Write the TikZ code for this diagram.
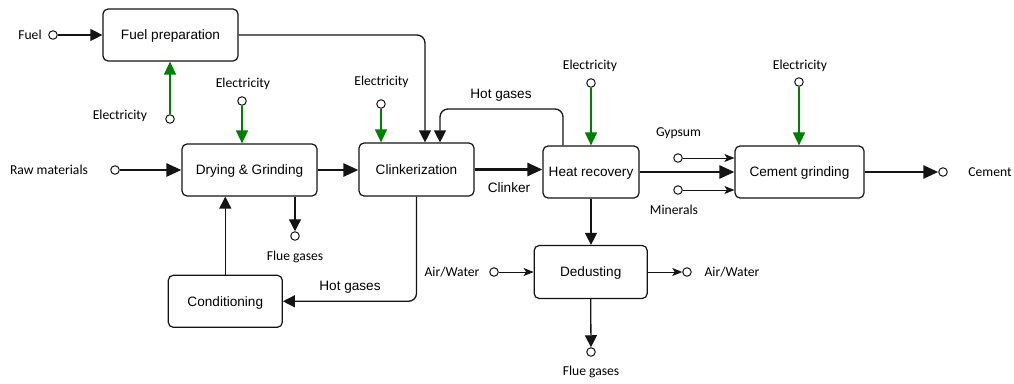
\documentclass[tikz,border=0pt]{standalone}
\usepackage{fontspec}
\newfontfamily\arialf{Liberation Sans}
\newfontfamily\calf{Carlito}
\usetikzlibrary{arrows.meta}
\definecolor{elgreen}{RGB}{0,128,0}
\definecolor{ln}{RGB}{20,20,20}
\tikzset{
  box/.style={draw=ln, line width=1.2pt, rounded corners=5pt, fill=white, inner sep=2pt,
    text height=9.5pt, text depth=0pt,
    font=\arialf\fontsize{13.6}{16}\selectfont, align=center},
  port/.style={circle, draw=ln, line width=1pt, fill=white, inner sep=0pt, minimum size=8.5pt},
  lab/.style={font=\calf\fontsize{13.6}{16}\selectfont, inner sep=0pt, text height=9pt, text depth=0pt},
  alab/.style={font=\arialf\fontsize{13.6}{16}\selectfont, inner sep=0pt, text height=9.5pt, text depth=0pt},
  flow/.style={draw=ln, line width=1.3pt, -{Triangle[length=12pt,width=12pt]}},
  thick flow/.style={draw=ln, line width=2.6pt, -{Triangle[length=15pt,width=13pt]}},
  thin flow/.style={draw=ln, line width=1pt, -{Stealth[length=10pt,width=8pt,inset=2.5pt]}},
  elec/.style={draw=elgreen, line width=1.3pt, -{Triangle[length=13pt,width=12pt]}, color=elgreen},
}
\begin{document}
\begin{tikzpicture}[x=1pt,y=-1pt]
\useasboundingbox (0,0) rectangle (1014,383);
\fill[white] (0,0) rectangle (1014,383);

% boxes
\node[box, minimum width=135pt, minimum height=52pt] (fp) at (170.5,35) {Fuel preparation};
\node[box, minimum width=135pt, minimum height=52pt] (dg) at (249.5,170) {Drying \& Grinding};
\node[box, minimum width=115pt, minimum height=53pt] (cl) at (416.5,169.5) {Clinkerization};
\node[box, minimum width=96pt, minimum height=52pt] (hr) at (591,172) {Heat recovery};
\node[box, minimum width=129pt, minimum height=52pt] (cg) at (799.5,172) {Cement grinding};
\node[box, minimum width=113pt, minimum height=53pt] (de) at (590.7,272) {Dedusting};
\node[box, minimum width=114pt, minimum height=52pt] (co) at (225.3,301.3) {Conditioning};

% ports
\node[port] (fuelc) at (53,35) {};
\node[port] (elfp) at (170,119) {};
\node[port] (eldg) at (242,101) {};
\node[port] (elcl) at (381,104) {};
\node[port] (elhr) at (591,83) {};
\node[port] (elcg) at (799,82) {};
\node[port] (rawc) at (115,170) {};
\node[port] (gyc) at (678,158) {};
\node[port] (mic) at (678,190) {};
\node[port] (cemc) at (943,172) {};
\node[port] (awin) at (494,272) {};
\node[port] (awout) at (687,272) {};
\node[port] (flue1) at (295,236) {};
\node[port] (flue2) at (591,352) {};

% labels
\node[lab] (lfuel) at (30,35) {Fuel};
\node[lab] (lelfp) at (120,115) {Electricity};
\node[lab] (leldg) at (243,83) {Electricity};
\node[lab] (lelcl) at (381.5,81) {Electricity};
\node[lab] (lelhr) at (590,65) {Electricity};
\node[lab] (lelcg) at (800,65) {Electricity};
\node[lab] (lraw) at (49,170) {Raw materials};
\node[lab] (lgy) at (678.5,132) {Gypsum};
\node[lab] (lmi) at (674,210) {Minerals};
\node[lab] (lcem) at (990,172) {Cement};
\node[lab] (lawin) at (452,272) {Air/Water};
\node[lab] (lawout) at (732,272) {Air/Water};
\node[lab] (lflue1) at (295,256) {Flue gases};
\node[lab] (lflue2) at (591,371) {Flue gases};
\node[alab] (lhg1) at (501,94) {Hot gases};
\node[alab] (lhg2) at (350,286) {Hot gases};
\node[alab] (lclk) at (509,188) {Clinker};

% connectors
\draw[flow] (fuelc) -- (fuelc -| fp.west);
\draw[elec] (elfp) -- (elfp |- fp.south);
\draw[elec] (eldg) -- (eldg |- dg.north);
\draw[elec] (elcl) -- (elcl |- cl.north);
\draw[elec] (elhr) -- (elhr |- hr.north);
\draw[elec] (elcg) -- (elcg |- cg.north);
\draw[flow, rounded corners=8pt] (fp.east) -| ([xshift=8.5pt]cl.north);
\draw[flow, rounded corners=8pt] ([xshift=-28pt]hr.north) |- ([xshift=23.5pt]cl.north |- 0,109) -- ([xshift=23.5pt]cl.north);
\draw[thick flow] (rawc) -- (rawc -| dg.west);
\draw[thick flow] (dg.east) -- (dg.east -| cl.west);
\draw[thick flow] (cl.east) -- (cl.east -| hr.west);
\draw[thick flow] (hr.east) -- (hr.east -| cg.west);
\draw[thick flow] (cg.east) -- (cemc);
\draw[thin flow] (gyc) -- (gyc -| cg.west);
\draw[thin flow] (mic) -- (mic -| cg.west);
\draw[flow] (flue1 |- dg.south) -- (flue1);
\draw[flow] (co.north) -- (co.north |- dg.south);
\draw[flow, rounded corners=8pt] (cl.south) |- (co.east);
\draw[flow] (hr.south) -- (hr.south |- de.north);
\draw[thin flow] (awin) -- (awin -| de.west);
\draw[thin flow] (de.east) -- (awout);
\draw[flow] (de.south) -- (flue2);
\end{tikzpicture}
\end{document}
